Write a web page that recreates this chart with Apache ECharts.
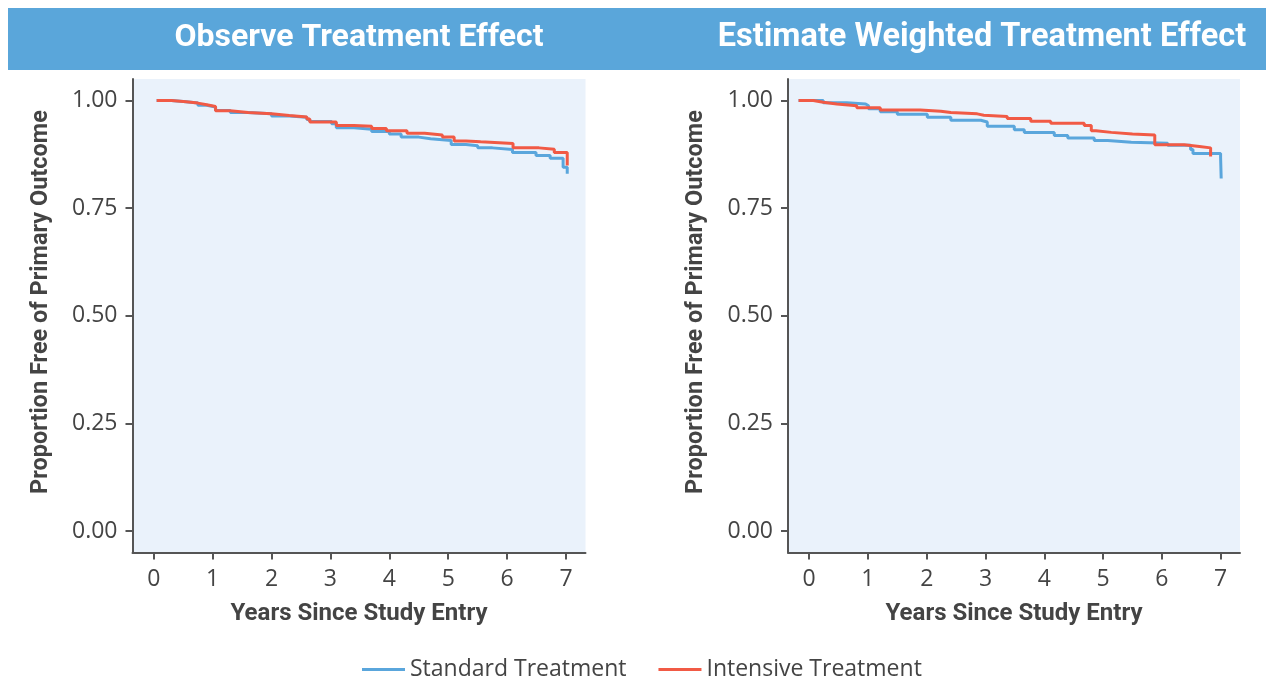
<!DOCTYPE html>
<html>
<head>
<meta charset="utf-8">
<script src="https://cdn.jsdelivr.net/npm/echarts@6/dist/echarts.min.js"></script>
<style>
html,body{margin:0;padding:0;background:#fff;}
#chart{width:1266px;height:684px;}
</style>
</head>
<body>
<div id="chart"></div>
<script>
// ---- Data ----
const panelTitles = ['Observe Treatment Effect', 'Estimate Weighted Treatment Effect'];
const seriesNames = ['Standard Treatment', 'Intensive Treatment'];
const xTicks = [0, 1, 2, 3, 4, 5, 6, 7];
const yTicks = [0, 0.25, 0.5, 0.75, 1];
const xAxisTitle = 'Years Since Study Entry';
const yAxisTitle = 'Proportion Free of Primary Outcome';

// Observed (left panel): [years, proportion]
const obsStandard = [
  [0.05,1.000],[0.30,0.997],[0.55,0.994],[0.75,0.989],[0.90,0.985],[1.05,0.977],[1.30,0.972],
  [1.60,0.969],[2.00,0.964],[2.30,0.961],[2.60,0.956],[2.65,0.951],[3.02,0.946],[3.10,0.937],
  [3.40,0.933],[3.70,0.928],[4.00,0.922],[4.20,0.915],[4.50,0.911],[4.70,0.907],[5.05,0.898],
  [5.30,0.895],[5.50,0.890],[5.75,0.886],[6.09,0.879],[6.49,0.872],[6.73,0.866],[6.95,0.845],
  [7.02,0.830]
];
const obsIntensive = [
  [0.05,1.000],[0.30,0.997],[0.55,0.994],[0.75,0.990],[0.90,0.986],[1.05,0.976],[1.30,0.972],
  [1.60,0.969],[2.00,0.965],[2.30,0.962],[2.60,0.957],[2.65,0.950],[3.00,0.950],[3.10,0.942],
  [3.40,0.940],[3.70,0.935],[3.95,0.930],[4.30,0.924],[4.60,0.920],[4.90,0.915],[5.10,0.906],
  [5.30,0.904],[5.55,0.900],[6.10,0.890],[6.54,0.887],[6.80,0.879],[7.02,0.849]
];
// Weighted (right panel)
const wtStandard = [
  [-0.18,1.000],[0.24,0.995],[0.64,0.992],[0.96,0.988],[1.01,0.981],[1.21,0.974],[1.50,0.968],
  [2.01,0.961],[2.41,0.954],[2.92,0.950],[3.03,0.940],[3.49,0.932],[3.66,0.926],[4.17,0.919],
  [4.40,0.913],[4.85,0.907],[5.08,0.903],[5.48,0.901],[6.10,0.896],[6.49,0.886],[6.53,0.877],
  [7.00,0.867],[7.01,0.819]
];
const wtIntensive = [
  [-0.18,1.000],[0.07,0.996],[0.24,0.992],[0.47,0.988],[0.81,0.983],[1.21,0.978],[1.89,0.975],
  [2.24,0.972],[2.41,0.969],[2.86,0.966],[2.97,0.963],[3.37,0.958],[3.77,0.952],[4.11,0.947],
  [4.68,0.942],[4.80,0.930],[4.88,0.926],[5.14,0.922],[5.50,0.920],[5.88,0.897],[6.38,0.893],
  [6.64,0.890],[6.83,0.870]
];

// ---- Styling ----
const BLUE = '#5aa6dc';
const RED = '#f15a45';
const AXIS = '#555555';
const TXT = '#444444';
const HEADER = '#5aa6da';
const PLOTBG = '#eaf2fb';

const grids = [
  {left: 132.5, top: 79, width: 453, height: 473.5},
  {left: 788, top: 79, width: 452, height: 473.5}
];

function xAxisFor(i) {
  return {
    type: 'value', gridIndex: i, min: -0.36, max: 7.33,
    axisLine: {show: true, onZero: false, lineStyle: {color: AXIS, width: 2}},
    axisTick: {show: true, length: 7, customValues: xTicks, lineStyle: {color: AXIS, width: 2}},
    axisLabel: {customValues: xTicks, fontSize: 23, color: TXT, fontFamily: 'Open Sans', margin: 15},
    splitLine: {show: false},
    name: xAxisTitle, nameLocation: 'middle', nameGap: 49,
    nameTextStyle: {fontSize: 24, fontWeight: 'bold', color: TXT, fontFamily: 'Roboto'}
  };
}
function yAxisFor(i) {
  return {
    type: 'value', gridIndex: i, min: -0.05, max: 1.05,
    axisLine: {show: true, onZero: false, lineStyle: {color: AXIS, width: 2}},
    axisTick: {show: true, length: 7, customValues: yTicks, lineStyle: {color: AXIS, width: 2}},
    axisLabel: {customValues: yTicks, fontSize: 23, color: TXT, fontFamily: 'Open Sans', margin: 15,
      formatter: v => v.toFixed(2)},
    splitLine: {show: false}
  };
}
function lineSeries(name, data, color, idx) {
  return {
    type: 'line', name, data, xAxisIndex: idx, yAxisIndex: idx,
    step: 'end', showSymbol: false, symbol: 'none',
    lineStyle: {color, width: 3}, itemStyle: {color},
    emphasis: {disabled: true}, silent: true
  };
}

const chart = echarts.init(document.getElementById('chart'), null, {renderer: 'canvas'});
chart.setOption({
  animation: false,
  backgroundColor: '#ffffff',
  grid: grids.map(g => Object.assign({show: true, backgroundColor: PLOTBG, borderWidth: 0, containLabel: false}, g)),
  xAxis: [xAxisFor(0), xAxisFor(1)],
  yAxis: [yAxisFor(0), yAxisFor(1)],
  legend: {
    data: seriesNames, left: 362, top: 658, icon: 'rect', itemWidth: 43, itemHeight: 3,
    itemGap: 32, padding: 0,
    textStyle: {fontSize: 23, color: TXT, fontFamily: 'Open Sans'}
  },
  graphic: [
    {type: 'rect', z: -1, shape: {x: 8, y: 8, width: 1258, height: 62}, style: {fill: HEADER}},
    {type: 'text', x: 359, y: 38, style: {text: panelTitles[0], fill: '#ffffff', font: 'bold 32px Roboto', textAlign: 'center', textVerticalAlign: 'middle'}},
    {type: 'text', x: 982, y: 38, style: {text: panelTitles[1], fill: '#ffffff', font: 'bold 32.5px Roboto', textAlign: 'center', textVerticalAlign: 'middle'}},
    {type: 'text', x: 41, y: 302, rotation: Math.PI / 2, style: {text: yAxisTitle, fill: TXT, font: 'bold 23.5px Roboto', textAlign: 'center', textVerticalAlign: 'middle'}},
    {type: 'text', x: 696, y: 302, rotation: Math.PI / 2, style: {text: yAxisTitle, fill: TXT, font: 'bold 23.5px Roboto', textAlign: 'center', textVerticalAlign: 'middle'}}
  ],
  series: [
    lineSeries(seriesNames[0], obsStandard, BLUE, 0),
    lineSeries(seriesNames[1], obsIntensive, RED, 0),
    lineSeries(seriesNames[0], wtStandard, BLUE, 1),
    lineSeries(seriesNames[1], wtIntensive, RED, 1)
  ]
});
</script>
</body>
</html>
